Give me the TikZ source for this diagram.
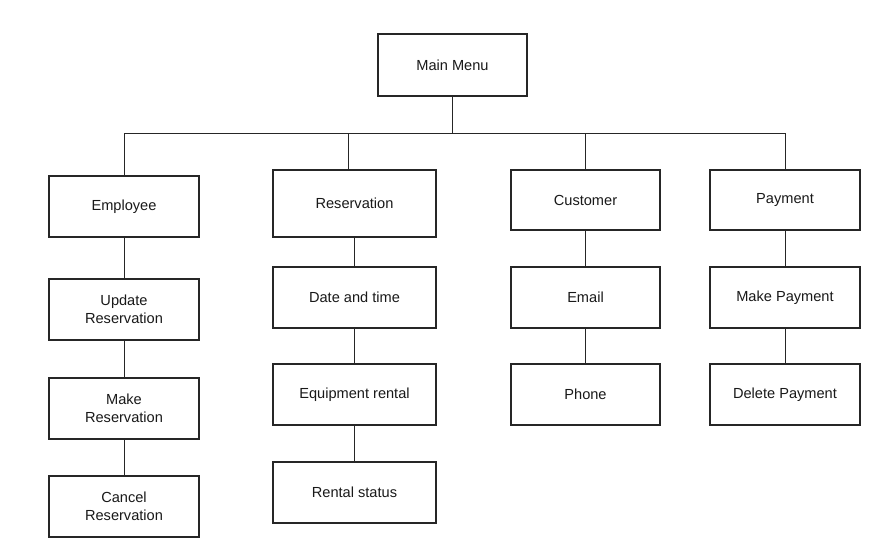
\documentclass[tikz,border=0pt]{standalone}
\usepackage{fontspec}
\setmainfont{Liberation Sans}
\begin{document}
\begin{tikzpicture}[x=1pt,y=-1pt,
  box/.style={draw=black!85, line width=1.1pt, fill=white, inner sep=0pt, align=center,
    font=\fontsize{14.6}{18.3}\selectfont, text=black!90},
  wire/.style={draw=black!85, line width=1pt}]
\useasboundingbox (0,0) rectangle (887,552);
\node[box, minimum width=149pt, minimum height=62pt] (main) at (452.5,65) {Main Menu};
% Employee column
\node[box, minimum width=150pt, minimum height=61pt] (emp) at (124,206.5) {Employee};
\node[box, minimum width=150pt, minimum height=61pt] (upd) at (124,309.5) {Update\\Reservation};
\node[box, minimum width=150pt, minimum height=61pt] (mk) at (124,408.5) {Make\\Reservation};
\node[box, minimum width=150pt, minimum height=61pt] (cnl) at (124,506.5) {Cancel\\Reservation};
% Reservation column
\node[box, minimum width=163pt, minimum height=67pt] (res) at (354.5,203.5) {Reservation};
\node[box, minimum width=163pt, minimum height=61pt] (date) at (354.5,297.5) {Date and time};
\node[box, minimum width=163pt, minimum height=61pt] (equip) at (354.5,394.5) {Equipment rental};
\node[box, minimum width=163pt, minimum height=61pt] (rstat) at (354.5,492.5) {Rental status};
% Customer column
\node[box, minimum width=149pt, minimum height=60pt] (cust) at (585.5,200) {Customer};
\node[box, minimum width=149pt, minimum height=61pt] (email) at (585.5,297.5) {Email};
\node[box, minimum width=149pt, minimum height=61pt] (phone) at (585.5,394.5) {Phone};
% Payment column
\node[box, minimum width=150pt, minimum height=60pt] (pay) at (785,200) {Payment};
\node[box, minimum width=150pt, minimum height=61pt] (mkpay) at (785,297.5) {Make Payment};
\node[box, minimum width=150pt, minimum height=61pt] (delpay) at (785,394.5) {Delete Payment};
% bus
\coordinate (bm) at (452.5,133);
\coordinate (b1) at (124,133);
\coordinate (b2) at (348,133);
\coordinate (b3) at (585.5,133);
\coordinate (b4) at (785,133);
\draw[wire] (main.south) -- (bm);
\draw[wire] (b1) -- (b4);
\draw[wire] (b1) -- (emp.north);
\draw[wire] (b2) -- (b2 |- res.north);
\draw[wire] (b3) -- (cust.north);
\draw[wire] (b4) -- (pay.north);
% columns
\draw[wire] (emp.south) -- (upd.north);
\draw[wire] (upd.south) -- (mk.north);
\draw[wire] (mk.south) -- (cnl.north);
\draw[wire] (res.south) -- (date.north);
\draw[wire] (date.south) -- (equip.north);
\draw[wire] (equip.south) -- (rstat.north);
\draw[wire] (cust.south) -- (email.north);
\draw[wire] (email.south) -- (phone.north);
\draw[wire] (pay.south) -- (mkpay.north);
\draw[wire] (mkpay.south) -- (delpay.north);
\end{tikzpicture}
\end{document}
